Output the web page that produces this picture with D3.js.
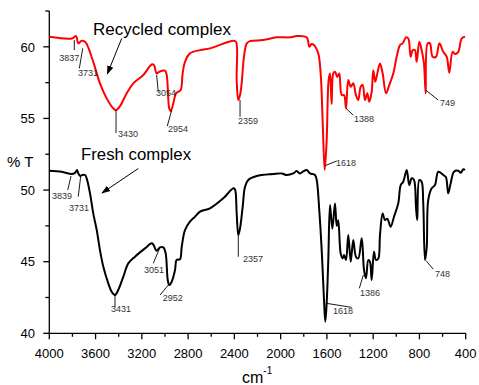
<!DOCTYPE html>
<html>
<head>
<meta charset="utf-8">
<script src="https://cdn.jsdelivr.net/npm/d3@7"></script>
<style>
  body { margin: 0; background: #fff; }
  svg { display: block; font-family: "Liberation Sans", Arial, sans-serif; }
</style>
</head>
<body>
<svg id="chart" width="479" height="385"></svg>
<script>
// Recycled complex (red) — wavenumber (cm-1) and %T
const recycledWn = [4000, 3806, 3769, 3749, 3720, 3691, 3671, 3620, 3562, 3504, 3447, 3423, 3389, 3331, 3274, 3187,
  3115, 3095, 3072, 3049, 3000, 2985, 2963, 2950, 2928, 2905, 2885, 2864, 2847, 2827, 2784, 2697, 2611, 2553,
  2409, 2386, 2380, 2366, 2351, 2337, 2317, 2293, 2265, 2150, 2034, 1919, 1861, 1775, 1752, 1732, 1712, 1675,
  1654, 1636, 1619, 1602, 1585, 1573, 1559, 1545, 1530, 1510, 1493, 1472, 1452, 1435, 1415, 1394, 1372, 1349,
  1329, 1308, 1291, 1271, 1251, 1234, 1213, 1199, 1182, 1164, 1141, 1118, 1089, 1061, 1026, 997, 968, 945,
  916, 896, 876, 858, 839, 824, 801, 781, 761, 746, 729, 709, 686, 657, 628, 594, 564, 542, 513, 493, 464, 435, 406];
const recycledT = [60.70, 60.58, 60.75, 60.24, 60.42, 60.35, 60.10, 58.95, 57.45, 56.40, 55.70, 55.58, 55.86, 56.75, 57.45, 58.03,
  58.77, 58.72, 58.14, 58.26, 58.33, 58.03, 55.70, 55.51, 56.05, 56.75, 56.86, 56.98, 58.14, 58.95, 59.54, 59.77, 59.89, 60.05,
  60.42, 60.35, 57.68, 56.28, 56.63, 57.45, 59.30, 60.24, 60.40, 60.47, 60.66, 60.66, 60.75, 60.66, 60.00, 60.19, 60.12, 59.54,
  58.14, 54.65, 51.40, 53.49, 57.68, 58.14, 56.00, 58.14, 58.26, 57.90, 58.14, 56.63, 56.63, 55.70, 57.68, 57.21, 57.45, 56.63,
  56.28, 57.21, 57.33, 56.28, 56.75, 56.16, 56.86, 58.37, 57.56, 58.14, 58.84, 58.14, 56.75, 57.33, 58.14, 59.30, 60.12, 60.24,
  60.66, 60.58, 59.30, 59.77, 59.77, 58.95, 60.35, 59.77, 58.84, 56.75, 60.24, 60.24, 59.30, 59.30, 60.24, 59.65, 59.30, 58.19, 59.65, 59.50, 59.65, 60.58, 60.70];

// Fresh complex (black)
const freshWn = [4000, 3893, 3806, 3778, 3760, 3749, 3732, 3715, 3691, 3677, 3648, 3620, 3590, 3562, 3533, 3490, 3461, 3432,
  3404, 3360, 3317, 3259, 3173, 3115, 3101, 3072, 3043, 3014, 2994, 2976, 2963, 2942, 2913, 2899, 2870, 2855, 2827, 2784,
  2740, 2697, 2611, 2496, 2409, 2395, 2380, 2366, 2351, 2328, 2308, 2280, 2207, 2064, 1991, 1948, 1891, 1861, 1833, 1804,
  1775, 1746, 1703, 1688, 1666, 1645, 1625, 1614, 1602, 1588, 1573, 1553, 1530, 1515, 1502, 1481, 1464, 1452, 1435, 1415,
  1394, 1372, 1349, 1329, 1299, 1279, 1262, 1242, 1228, 1213, 1193, 1176, 1156, 1141, 1118, 1098, 1078, 1049, 1020, 983,
  962, 940, 910, 888, 867, 847, 830, 819, 801, 781, 767, 752, 737, 724, 694, 666, 637, 594, 571, 551, 530, 501, 464, 443, 421, 406];
const freshT = [51.35, 51.28, 51.12, 51.20, 51.40, 51.16, 50.98, 51.05, 51.05, 50.82, 49.77, 48.37, 47.21, 45.81, 44.65, 43.49, 42.90, 42.67,
  43.02, 43.95, 44.88, 45.35, 45.93, 46.28, 46.20, 45.76, 46.00, 46.00, 45.58, 43.72, 43.37, 43.60, 44.42, 45.12, 45.17, 46.04, 47.21, 47.79,
  48.14, 48.49, 48.72, 49.42, 50.12, 50.05, 48.37, 46.86, 47.33, 48.84, 50.23, 50.70, 50.98, 51.12, 51.16, 51.05, 51.16, 51.33, 51.16, 51.30,
  51.40, 51.16, 51.05, 50.70, 48.60, 45.81, 42.32, 40.81, 42.09, 45.12, 48.95, 47.30, 49.07, 47.50, 47.90, 45.58, 45.23, 45.47, 45.12, 46.86,
  45.00, 46.51, 45.35, 45.23, 46.63, 44.42, 43.84, 45.12, 45.00, 43.72, 45.70, 45.12, 45.20, 46.86, 48.37, 47.91, 48.00, 47.44, 48.14, 49.07,
  50.35, 50.58, 51.40, 50.35, 50.82, 50.70, 48.84, 47.91, 50.70, 50.58, 49.07, 45.12, 46.00, 49.30, 50.12, 50.35, 51.28, 51.05, 50.90, 49.77, 50.47, 51.28, 51.35, 51.20, 51.45, 51.40];

// Axis ticks
const xTicks = [4000, 3600, 3200, 2800, 2400, 2000, 1600, 1200, 800, 400];
const xMinorTicks = [3800, 3400, 3000, 2600, 2200, 1800, 1400, 1000, 600];
const yTicks = [40, 45, 50, 55, 60];
const yMinorTicks = [42.5, 47.5, 52.5, 57.5, 62.5];

// Peak annotations: label, anchor wavenumber and %T
const recycledPeaks = ['3837', '3731', '3430', '3054', '2954', '2359', '1618', '1388', '749'];
const recycledPeakWn = [3784, 3711, 3423, 3072, 2942, 2351, 1617, 1435, 746];
const recycledPeakT = [60.47, 59.89, 55.58, 58.03, 55.58, 56.28, 51.70, 55.70, 56.98];
const freshPeaks = ['3839', '3731', '3431', '3051', '2952', '2357', '1618', '1386', '748'];
const freshPeakWn = [3812, 3729, 3432, 3043, 2971, 2366, 1602, 1285, 743];
const freshPeakT = [50.98, 50.93, 42.67, 46.00, 43.37, 46.86, 42.09, 44.07, 45.07];

// Leader line end [dx, dy] and label start [tx, ty] relative to the anchor (pixels)
const recycledLayout = [[0, 10, -15, 21], [-3.4, 20, -4.7, 27.7], [0, 23, 2, 26.7], [1.6, 16.7, -0.7, 21], [-4.4, 16, -3.7, 22],
  [0, 16.7, -2, 24], [11.7, -4.7, 11, 0.3], [7.3, 6.7, 8, 13.4], [12.6, 10, 14.3, 16]];
const freshLayout = [[-3.3, 14, -19, 23.3], [-2.4, 20, -11.7, 34], [0, 11.7, -4, 16.7], [-6.7, 16, -16, 25.4], [-8.3, 10, -5.6, 15.7],
  [0, 21.7, 4.7, 26.7], [25, 4, 6.3, 10.7], [-4, 13.3, -3.3, 20.7], [7.3, 8.6, 9, 16.6]];

const svg = d3.select('#chart');

const x = d3.scaleLinear().domain([4000, 400]).range([49.3, 465.7]);
const y = d3.scaleLinear().domain([40, 62.5]).range([333.3, 11]);

// --- Axes ---
const axisG = svg.append('g').attr('stroke', '#000').attr('stroke-width', 1.3);
axisG.append('line').attr('x1', x(4000)).attr('x2', x(400)).attr('y1', y(40)).attr('y2', y(40));
axisG.append('line').attr('x1', x(4000)).attr('x2', x(4000)).attr('y1', y(40)).attr('y2', y(62.5));

axisG.selectAll('.xt').data(xTicks).join('line')
  .attr('x1', d => x(d)).attr('x2', d => x(d))
  .attr('y1', y(40)).attr('y2', y(40) + 6);
axisG.selectAll('.xm').data(xMinorTicks).join('line')
  .attr('x1', d => x(d)).attr('x2', d => x(d))
  .attr('y1', y(40)).attr('y2', y(40) + 3.5);
axisG.selectAll('.yt').data(yTicks).join('line')
  .attr('x1', x(4000) - 6).attr('x2', x(4000))
  .attr('y1', d => y(d)).attr('y2', d => y(d));
axisG.selectAll('.ym').data(yMinorTicks).join('line')
  .attr('x1', x(4000) - 4).attr('x2', x(4000))
  .attr('y1', d => y(d)).attr('y2', d => y(d));

svg.selectAll('.xl').data(xTicks).join('text')
  .attr('x', d => x(d)).attr('y', y(40) + 25)
  .attr('text-anchor', 'middle').attr('font-size', 13).attr('fill', '#000')
  .text(d => d);
svg.selectAll('.yl').data(yTicks).join('text')
  .attr('x', 35).attr('y', d => y(d) + 4.7)
  .attr('text-anchor', 'end').attr('font-size', 13).attr('fill', '#000')
  .text(d => d);

// Axis titles
svg.append('text').attr('x', 7).attr('y', 167)
  .attr('font-size', 15).attr('fill', '#000').text('% T');
const xTitle = svg.append('text').attr('x', 242).attr('y', 383)
  .attr('font-size', 16).attr('fill', '#000');
xTitle.append('tspan').text('cm');
xTitle.append('tspan').attr('dy', -9).attr('font-size', 10).text('-1');

// --- Spectra ---
const line = d3.line()
  .x(d => x(d[0]))
  .y(d => y(d[1]))
  .curve(d3.curveCatmullRom.alpha(0.5));

svg.append('path')
  .datum(d3.zip(freshWn, freshT))
  .attr('fill', 'none').attr('stroke', '#000').attr('stroke-width', 2)
  .attr('stroke-linejoin', 'round')
  .attr('d', line);

svg.append('path')
  .datum(d3.zip(recycledWn, recycledT))
  .attr('fill', 'none').attr('stroke', '#ff0000').attr('stroke-width', 2)
  .attr('stroke-linejoin', 'round')
  .attr('d', line);

// --- Peak labels ---
function drawPeaks(labels, wns, vals, layout) {
  const g = svg.append('g');
  labels.forEach((t, i) => {
    const px = x(wns[i]);
    const py = y(vals[i]);
    const [dx, dy, tx, ty] = layout[i];
    g.append('line')
      .attr('x1', px).attr('y1', py)
      .attr('x2', px + dx).attr('y2', py + dy)
      .attr('stroke', '#000').attr('stroke-width', 0.9);
    g.append('text')
      .attr('x', px + tx).attr('y', py + ty)
      .attr('font-size', 9).attr('fill', '#333')
      .text(t);
  });
}
drawPeaks(recycledPeaks, recycledPeakWn, recycledPeakT, recycledLayout);
drawPeaks(freshPeaks, freshPeakWn, freshPeakT, freshLayout);

// --- Series titles with arrows ---
svg.append('defs').append('marker')
  .attr('id', 'arrow')
  .attr('viewBox', '0 0 10 10')
  .attr('refX', 9).attr('refY', 5)
  .attr('markerWidth', 9).attr('markerHeight', 9)
  .attr('markerUnits', 'userSpaceOnUse')
  .attr('orient', 'auto')
  .append('path').attr('d', 'M0,1.5 L10,5 L0,8.5 Z').attr('fill', '#000');

svg.append('text').attr('x', 93).attr('y', 35)
  .attr('font-size', 17).attr('fill', '#000').text('Recycled complex');
svg.append('text').attr('x', 81).attr('y', 159.5)
  .attr('font-size', 16.8).attr('fill', '#000').text('Fresh complex');

svg.append('line')
  .attr('x1', 121.7).attr('y1', 38.5).attr('x2', 107.3).attr('y2', 74)
  .attr('stroke', '#000').attr('stroke-width', 1).attr('marker-end', 'url(#arrow)');
svg.append('line')
  .attr('x1', 138.3).attr('y1', 168.5).attr('x2', 102).attr('y2', 193)
  .attr('stroke', '#000').attr('stroke-width', 1).attr('marker-end', 'url(#arrow)');
</script>
</body>
</html>
